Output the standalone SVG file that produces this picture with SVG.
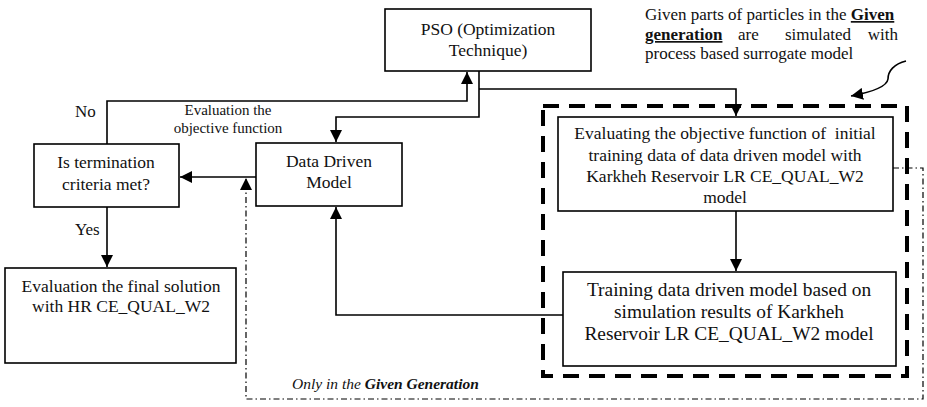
<svg xmlns="http://www.w3.org/2000/svg" width="927" height="407" viewBox="0 0 927 407">
<defs>
<style>
.box{fill:#fff;stroke:#000;stroke-width:1.6}
.t{font-family:"Liberation Serif","Times New Roman",serif;font-size:17.5px;fill:#111;text-anchor:middle}
.l{font-family:"Liberation Serif","Times New Roman",serif;font-size:17px;fill:#111}
.c{fill:none;stroke:#000;stroke-width:1.6}
.dd{fill:none;stroke:#000;stroke-width:1.2;stroke-dasharray:6 3 1.5 3}
</style>
<marker id="ah" viewBox="0 0 10 10" refX="10" refY="5" markerWidth="12" markerHeight="12" markerUnits="userSpaceOnUse" orient="auto">
<path d="M0,0 L10,5 L0,10 z" fill="#000"/>
</marker>
</defs>
<rect width="927" height="407" fill="#fff"/>

<g id="connectors">
<path class="c" d="M479,71 V117 H336 V142" marker-end="url(#ah)"/>
<path class="c" d="M479,89 H736 V116" marker-end="url(#ah)"/>
<path class="c" d="M736,211 V271" marker-end="url(#ah)"/>
<path class="c" d="M563,315 H336 V207" marker-end="url(#ah)"/>
<path class="c" d="M256,177 H180" marker-end="url(#ah)"/>
<path class="c" d="M107,144 V101 H467 V72" marker-end="url(#ah)"/>
<path class="c" d="M107,207 V267" marker-end="url(#ah)"/>
<path class="dd" d="M893,168 H923 V399 H246 V178" marker-end="url(#ah)"/>
<path class="c" d="M906,61 C894,64 888,71 888,79 C887,87 872,92 851,96" marker-end="url(#ah)"/>
</g>

<g id="given-group">
<rect x="543" y="106" width="364" height="270" fill="none" stroke="#000" stroke-width="4" stroke-dasharray="16 10"/>
</g>

<g id="pso">
<rect class="box" x="385" y="9" width="206" height="62"/>
<text class="t" x="488" y="35">PSO (Optimization</text>
<text class="t" x="488" y="56">Technique)</text>
</g>

<g id="evaluating">
<rect class="box" x="558" y="117" width="335" height="94"/>
<text class="t" x="725" y="139" xml:space="preserve">Evaluating the objective function of  initial</text>
<text class="t" x="725" y="161">training data of data driven model with</text>
<text class="t" x="725" y="182">Karkheh Reservoir LR CE_QUAL_W2</text>
<text class="t" x="725" y="203">model</text>
</g>

<g id="training">
<rect class="box" x="563" y="272" width="333" height="94"/>
<text class="t" x="729" y="296" style="font-size:19.4px">Training data driven model based on</text>
<text class="t" x="729" y="318" style="font-size:19.4px">simulation results of Karkheh</text>
<text class="t" x="729" y="340" style="font-size:19.4px">Reservoir LR CE_QUAL_W2 model</text>
</g>

<g id="termination">
<rect class="box" x="34" y="144" width="145" height="63"/>
<text class="t" x="106" y="168">Is termination</text>
<text class="t" x="106" y="190">criteria met?</text>
</g>

<g id="data-driven">
<rect class="box" x="256" y="143" width="146" height="63"/>
<text class="t" x="329" y="167">Data Driven</text>
<text class="t" x="329" y="188">Model</text>
</g>

<g id="final">
<rect class="box" x="5" y="268" width="231" height="95"/>
<text class="t" x="121" y="292">Evaluation the final solution</text>
<text class="t" x="121" y="312">with HR CE_QUAL_W2</text>
</g>

<g id="labels">
<text class="l" x="75" y="117">No</text>
<text class="l" x="228" y="115" text-anchor="middle" style="font-size:15px">Evaluation the</text>
<text class="l" x="228" y="133" text-anchor="middle" style="font-size:15px">objective function</text>
<text class="l" x="75" y="235">Yes</text>
<text class="l" x="292" y="389" font-style="italic" style="font-size:15.5px">Only in the <tspan font-weight="bold">Given Generation</tspan></text>
<text class="l" x="645" y="20">Given parts of particles in the <tspan font-weight="bold" text-decoration="underline">Given</tspan></text>
<text class="l" y="40"><tspan x="645" font-weight="bold" text-decoration="underline">generation</tspan><tspan x="738">are</tspan><tspan x="785">simulated</tspan><tspan x="898" text-anchor="end">with</tspan></text>
<text class="l" x="645" y="59">process based surrogate model</text>
</g>
</svg>
